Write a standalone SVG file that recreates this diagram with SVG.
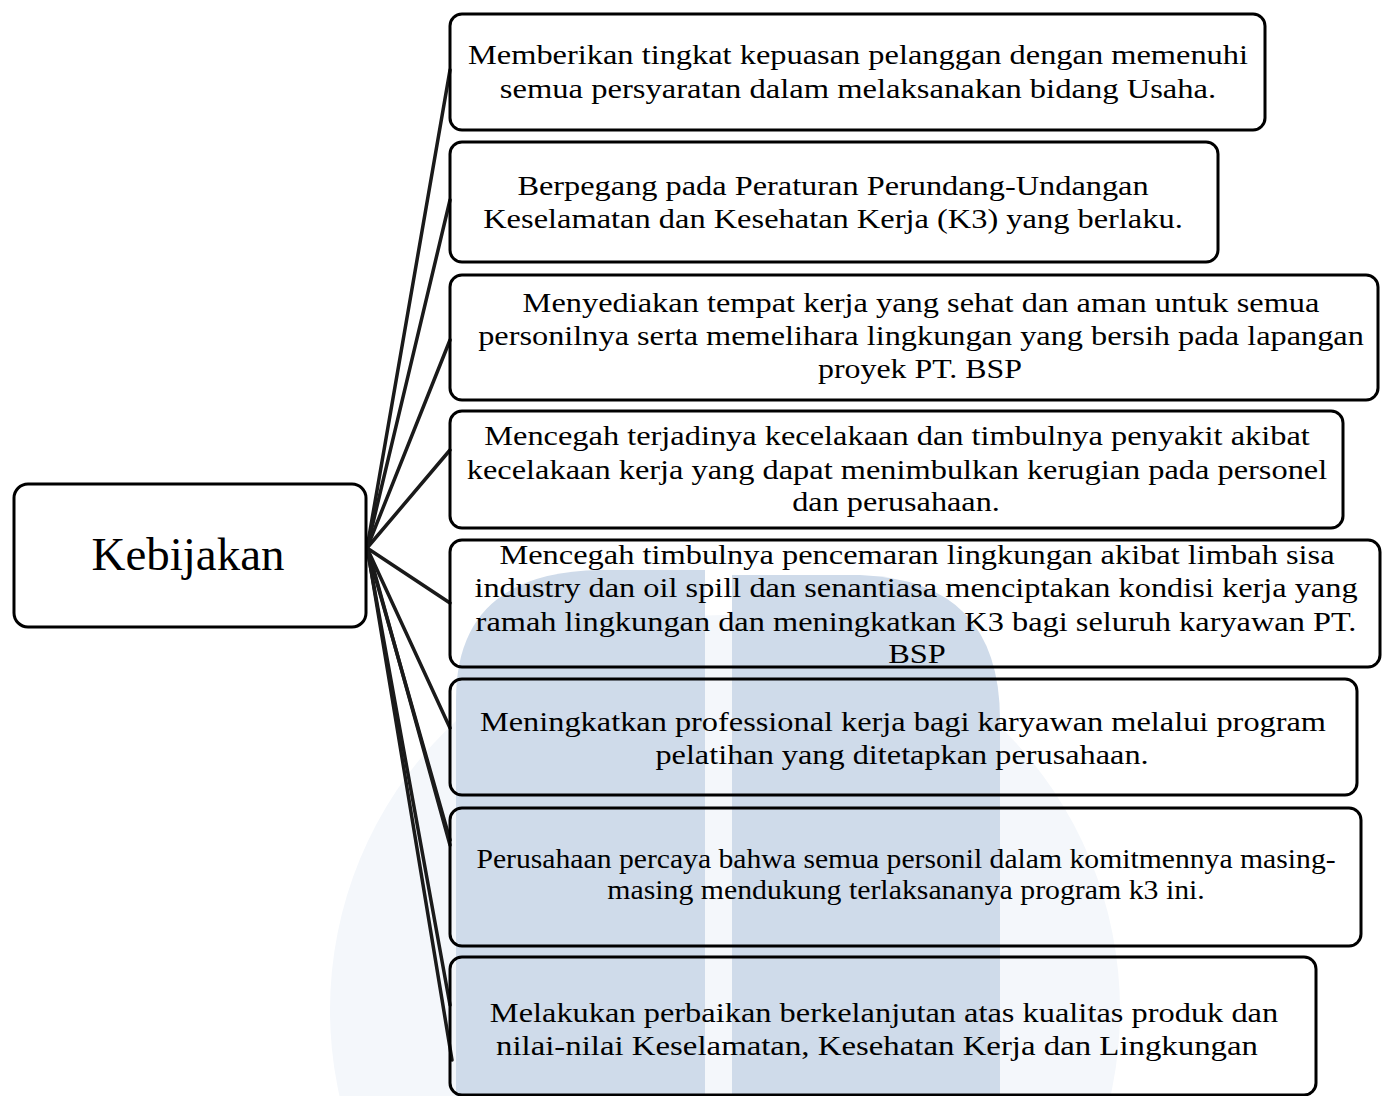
<svg xmlns="http://www.w3.org/2000/svg" width="1383" height="1096" viewBox="0 0 1383 1096">
  <style>
    .box { fill: none; stroke: #000; stroke-width: 3; }
    .lbl { font-family: "Liberation Serif", "Times New Roman", serif; font-size: 27px; fill: #000; text-anchor: middle; }
    .root { font-size: 47px; }
    .wm { fill: #cfdbea; }
    .wm-faint { fill: #f4f7fb; }
    .conn { stroke: #1a1a1a; stroke-width: 3.5; stroke-linecap: round; fill: none; }
  </style>

  <rect x="0" y="0" width="1383" height="1096" fill="#fff"/>

  <!-- background watermark emblem -->
  <g id="watermark">
    <circle class="wm-faint" cx="725" cy="1010" r="395"/>
    <path class="wm" d="M456 1096 L456 700 Q456 572 600 570 L705 570 L705 1096 Z"/>
    <path class="wm" d="M732 1096 L732 575 L860 575 Q1000 580 1000 720 L1000 1096 Z"/>
  </g>

  <!-- connectors from the root to each item -->
  <g id="connectors">
    <line class="conn" x1="367" y1="548" x2="450" y2="70"/>
    <line class="conn" x1="367" y1="548" x2="450" y2="200"/>
    <line class="conn" x1="367" y1="548" x2="450" y2="340"/>
    <line class="conn" x1="367" y1="548" x2="450" y2="450"/>
    <line class="conn" x1="367" y1="548" x2="450" y2="603"/>
    <line class="conn" x1="367" y1="548" x2="450" y2="728"/>
    <line class="conn" x1="367" y1="548" x2="450" y2="840"/>
    <line class="conn" x1="370" y1="556" x2="450" y2="845"/>
    <line class="conn" x1="367" y1="548" x2="450" y2="1005"/>
    <line class="conn" x1="368" y1="552" x2="452" y2="1060"/>
  </g>

  <g id="root">
    <rect class="box" x="14" y="484" width="352" height="143" rx="14"/>
    <text class="lbl root" x="188" y="570" textLength="193" lengthAdjust="spacingAndGlyphs">Kebijakan</text>
  </g>

  <!-- item labels are set slightly wide: 27px serif stretched 1.2x horizontally -->
  <g id="item1">
    <rect class="box" x="450" y="14" width="815" height="116" rx="12"/>
    <text class="lbl" transform="translate(858 64) scale(1.2 1)" textLength="650" lengthAdjust="spacingAndGlyphs">Memberikan tingkat kepuasan pelanggan dengan memenuhi</text>
    <text class="lbl" transform="translate(858 98) scale(1.2 1)" textLength="597" lengthAdjust="spacingAndGlyphs">semua persyaratan dalam melaksanakan bidang Usaha.</text>
  </g>

  <g id="item2">
    <rect class="box" x="450" y="142" width="768" height="120" rx="12"/>
    <text class="lbl" transform="translate(833 195) scale(1.2 1)" textLength="526" lengthAdjust="spacingAndGlyphs">Berpegang pada Peraturan Perundang-Undangan</text>
    <text class="lbl" transform="translate(833 228) scale(1.2 1)" textLength="583" lengthAdjust="spacingAndGlyphs">Keselamatan dan Kesehatan Kerja (K3) yang berlaku.</text>
  </g>

  <g id="item3">
    <rect class="box" x="450" y="275" width="928" height="125" rx="12"/>
    <text class="lbl" transform="translate(921 312) scale(1.2 1)" textLength="664" lengthAdjust="spacingAndGlyphs">Menyediakan tempat kerja yang sehat dan aman untuk semua</text>
    <text class="lbl" transform="translate(921 345) scale(1.2 1)" textLength="738" lengthAdjust="spacingAndGlyphs">personilnya serta memelihara lingkungan yang bersih pada lapangan</text>
    <text class="lbl" transform="translate(920 378) scale(1.2 1)" textLength="170" lengthAdjust="spacingAndGlyphs">proyek PT. BSP</text>
  </g>

  <g id="item4">
    <rect class="box" x="450" y="411" width="893" height="117" rx="12"/>
    <text class="lbl" transform="translate(897 445) scale(1.2 1)" textLength="688" lengthAdjust="spacingAndGlyphs">Mencegah terjadinya kecelakaan dan timbulnya penyakit akibat</text>
    <text class="lbl" transform="translate(897 479) scale(1.2 1)" textLength="717" lengthAdjust="spacingAndGlyphs">kecelakaan kerja yang dapat menimbulkan kerugian pada personel</text>
    <text class="lbl" transform="translate(896 511) scale(1.2 1)" textLength="173" lengthAdjust="spacingAndGlyphs">dan perusahaan.</text>
  </g>

  <g id="item5">
    <rect class="box" x="450" y="540" width="930" height="127" rx="12"/>
    <text class="lbl" transform="translate(917 564) scale(1.2 1)" textLength="696" lengthAdjust="spacingAndGlyphs">Mencegah timbulnya pencemaran lingkungan akibat limbah sisa</text>
    <text class="lbl" transform="translate(916 597) scale(1.2 1)" textLength="736" lengthAdjust="spacingAndGlyphs">industry dan oil spill dan senantiasa menciptakan kondisi kerja yang</text>
    <text class="lbl" transform="translate(916 631) scale(1.2 1)" textLength="734" lengthAdjust="spacingAndGlyphs">ramah lingkungan dan meningkatkan K3 bagi seluruh karyawan PT.</text>
    <text class="lbl" transform="translate(917 663) scale(1.2 1)" textLength="48" lengthAdjust="spacingAndGlyphs">BSP</text>
  </g>

  <g id="item6">
    <rect class="box" x="450" y="679" width="907" height="116" rx="12"/>
    <text class="lbl" transform="translate(903 731) scale(1.2 1)" textLength="705" lengthAdjust="spacingAndGlyphs">Meningkatkan professional kerja bagi karyawan melalui program</text>
    <text class="lbl" transform="translate(902 764) scale(1.2 1)" textLength="411" lengthAdjust="spacingAndGlyphs">pelatihan yang ditetapkan perusahaan.</text>
  </g>

  <g id="item7">
    <rect class="box" x="450" y="808" width="911" height="138" rx="12"/>
    <text class="lbl" transform="translate(906 868) scale(1.2 1)" textLength="716" lengthAdjust="spacingAndGlyphs">Perusahaan percaya bahwa semua personil dalam komitmennya masing-</text>
    <text class="lbl" transform="translate(906 899) scale(1.2 1)" textLength="498" lengthAdjust="spacingAndGlyphs">masing mendukung terlaksananya program k3 ini.</text>
  </g>

  <g id="item8">
    <rect class="box" x="450" y="957" width="866" height="138" rx="12"/>
    <text class="lbl" transform="translate(884 1022) scale(1.2 1)" textLength="657" lengthAdjust="spacingAndGlyphs">Melakukan perbaikan berkelanjutan atas kualitas produk dan</text>
    <text class="lbl" transform="translate(877 1055) scale(1.2 1)" textLength="635" lengthAdjust="spacingAndGlyphs">nilai-nilai Keselamatan, Kesehatan Kerja dan Lingkungan</text>
  </g>
</svg>
